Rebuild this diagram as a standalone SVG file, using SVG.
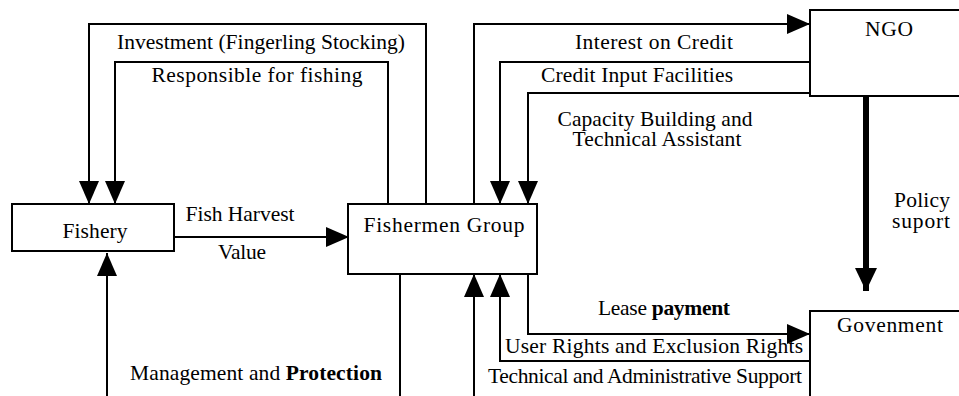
<svg xmlns="http://www.w3.org/2000/svg" width="959" height="396" viewBox="0 0 959 396">
  <style>
    .box { fill: #fff; stroke: #000; stroke-width: 2; }
    .ln { fill: none; stroke: #000; stroke-width: 2; }
    .thick { fill: none; stroke: #000; stroke-width: 6; }
    .t { font-family: "Liberation Serif", "Times New Roman", serif; font-size: 21.5px; fill: #000; text-anchor: middle; }
    .b { font-weight: bold; }
  </style>
  <defs>
    <marker id="arr" viewBox="0 0 23 20" refX="23" refY="10" markerWidth="23" markerHeight="20" markerUnits="userSpaceOnUse" orient="auto">
      <path d="M0,0 L23,10 L0,20 Z" fill="#000"/>
    </marker>
    <marker id="arrBig" viewBox="0 0 23 22" refX="23" refY="11" markerWidth="23" markerHeight="22" markerUnits="userSpaceOnUse" orient="auto">
      <path d="M0,0 L23,11 L0,22 Z" fill="#000"/>
    </marker>
  </defs>

  <rect width="959" height="396" fill="#fff"/>

  <!-- connectors -->
  <g id="connectors">
    <!-- Fishermen Group -> Fishery -->
    <path class="ln" d="M426,204 V24 H89 V204" marker-end="url(#arr)"/>
    <path class="ln" d="M388,204 V62 H115 V204" marker-end="url(#arr)"/>
    <!-- Fishery -> Fishermen Group -->
    <path class="ln" d="M174,237 H349" marker-end="url(#arr)"/>
    <!-- Management and Protection -->
    <path class="ln" d="M400,274 V396"/>
    <path class="ln" d="M107,396 V253" marker-end="url(#arr)"/>
    <!-- Fishermen Group <-> NGO -->
    <path class="ln" d="M474,204 V24 H810" marker-end="url(#arr)"/>
    <path class="ln" d="M810,62 H500 V204" marker-end="url(#arr)"/>
    <path class="ln" d="M810,93 H528 V204" marker-end="url(#arr)"/>
    <!-- NGO -> Government -->
    <path class="thick" d="M866,96 V291" marker-end="url(#arrBig)"/>
    <!-- Fishermen Group <-> Government -->
    <path class="ln" d="M528,274 V334 H810" marker-end="url(#arr)"/>
    <path class="ln" d="M810,361 H500 V274" marker-end="url(#arr)"/>
    <path class="ln" d="M474,396 V274" marker-end="url(#arr)"/>
  </g>

  <!-- nodes -->
  <g id="fishery">
    <rect class="box" x="12" y="204" width="162" height="47"/>
    <text class="t" x="95" y="238" textLength="65">Fishery</text>
  </g>
  <g id="fishermen-group">
    <rect class="box" x="348" y="204" width="189" height="70"/>
    <text class="t" x="444" y="232" textLength="161">Fishermen Group</text>
  </g>
  <g id="ngo">
    <rect class="box" x="810" y="10" width="200" height="86"/>
    <text class="t" x="889" y="36" textLength="48">NGO</text>
  </g>
  <g id="government">
    <rect class="box" x="810" y="311" width="200" height="120"/>
    <text class="t" x="890" y="332" textLength="106">Govenment</text>
  </g>

  <!-- connector labels -->
  <g id="labels">
    <text class="t" x="261" y="49" textLength="288">Investment (Fingerling Stocking)</text>
    <text class="t" x="257" y="82" textLength="211">Responsible for fishing</text>
    <text class="t" x="240" y="221" textLength="109">Fish Harvest</text>
    <text class="t" x="242" y="259" textLength="48">Value</text>
    <text class="t" x="256" y="380" textLength="252">Management and <tspan class="b">Protection</tspan></text>
    <text class="t" x="654" y="49" textLength="158">Interest on Credit</text>
    <text class="t" x="637" y="82" textLength="192">Credit Input Facilities</text>
    <text class="t" x="655" y="126" textLength="195">Capacity Building and</text>
    <text class="t" x="657" y="146" textLength="169">Technical Assistant</text>
    <text class="t" x="922" y="207" textLength="56">Policy</text>
    <text class="t" x="921" y="228" textLength="58">suport</text>
    <text class="t" x="664" y="315" textLength="132">Lease <tspan class="b">payment</tspan></text>
    <text class="t" x="654" y="353" textLength="298">User Rights and Exclusion Rights</text>
    <text class="t" x="645" y="383" textLength="314">Technical and Administrative Support</text>
  </g>
</svg>
